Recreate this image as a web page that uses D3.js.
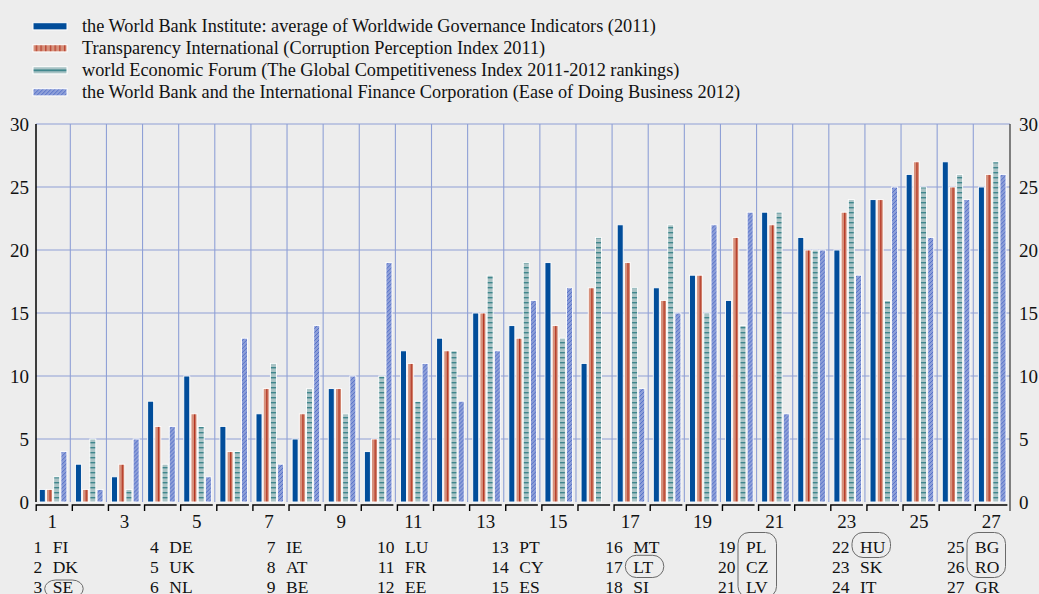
<!DOCTYPE html>
<html>
<head>
<meta charset="utf-8">
<script src="https://cdn.jsdelivr.net/npm/d3@7"></script>
<style>
  body { margin: 0; background: #ededed; }
  text { font-family: "Liberation Serif", "Times New Roman", serif; fill: #111; }
</style>
</head>
<body>
<script>

// ranks of the EU27 countries, one array per source
var countries = ["FI","DK","SE","DE","UK","NL","IE","AT","BE","LU","FR","EE","PT","CY","ES",
                 "MT","LT","SI","PL","CZ","LV","HU","SK","IT","BG","RO","GR"];
var wgi = [1,3,2,8,10,6,7,5,9,4,12,13,15,14,19,11,22,17,18,16,23,21,20,24,26,27,25];
var cpi = [1,1,3,6,7,4,9,7,9,5,11,12,15,13,14,17,19,16,18,21,22,20,23,24,27,25,26];
var gci = [2,5,1,3,6,4,11,9,7,10,8,12,18,19,13,21,17,22,15,14,23,20,24,16,25,26,27];
var dbi = [4,1,5,6,2,13,3,14,10,19,11,8,12,16,17,null,9,15,22,23,7,20,18,25,21,24,26];

var seriesNames = [
  "the World Bank Institute: average of Worldwide Governance Indicators (2011)",
  "Transparency International (Corruption Perception Index 2011)",
  "world Economic Forum (The Global Competitiveness Index 2011-2012 rankings)",
  "the World Bank and the International Finance Corporation (Ease of Doing Business 2012)"
];
var yTicks = [0,5,10,15,20,25,30];
// countries circled in the list under the chart (first and last index)
var circled = [[2,2],[16,16],[18,20],[21,21],[24,25]];

var series = [wgi, cpi, gci, dbi];

var w = 1039;
var h = 594;

var svg = d3.select("body").append("svg")
  .attr("width", w)
  .attr("height", h);

// patterns
var defs = svg.append("defs");

var pRed = defs.append("pattern").attr("id","red")
  .attr("patternUnits","objectBoundingBox").attr("patternContentUnits","objectBoundingBox")
  .attr("width",1).attr("height",1);
pRed.append("rect").attr("width",1).attr("height",1).attr("fill","#d6917c");
pRed.append("rect").attr("x",0.5).attr("width",0.22).attr("height",1).attr("fill","#b3321f");

var pRedL = defs.append("pattern").attr("id","redL")
  .attr("patternUnits","userSpaceOnUse").attr("width",4.7).attr("height",10);
pRedL.append("rect").attr("width",4.7).attr("height",10).attr("fill","#d6917c");
pRedL.append("rect").attr("x",3).attr("width",1.1).attr("height",10).attr("fill","#b3321f");

var pTeal = defs.append("pattern").attr("id","teal")
  .attr("patternUnits","userSpaceOnUse").attr("width",10).attr("height",5);
pTeal.append("rect").attr("width",10).attr("height",5).attr("fill","#a9c3c5");
pTeal.append("rect").attr("y",2).attr("width",10).attr("height",1.4).attr("fill","#3f868c");

var pTealL = defs.append("pattern").attr("id","tealL")
  .attr("patternUnits","objectBoundingBox").attr("patternContentUnits","objectBoundingBox")
  .attr("width",1).attr("height",1);
pTealL.append("rect").attr("width",1).attr("height",1).attr("fill","#a9c3c5");
pTealL.append("rect").attr("y",0.38).attr("width",1).attr("height",0.26).attr("fill","#3f868c");

var pHatch = defs.append("pattern").attr("id","hatch")
  .attr("patternUnits","userSpaceOnUse").attr("width",4).attr("height",4);
pHatch.append("rect").attr("width",4).attr("height",4).attr("fill","#8e9fd8");
pHatch.append("path").attr("d","M-1,1L1,-1M0,4L4,0M3,5L5,3")
  .attr("stroke","#3b5cc2").attr("stroke-width",0.7);

var fills = ["#014d9a", "url(#red)", "url(#teal)", "url(#hatch)"];
var legendFills = ["#014d9a", "url(#redL)", "url(#tealL)", "url(#hatch)"];

// scales
var x = d3.scaleBand()
  .domain(d3.range(1, 28))
  .range([34.2, 1009.4]);
var xs = d3.scaleBand()
  .domain([0,1,2,3])
  .range([4.6, 33.4]);
var y = d3.scaleLinear()
  .domain([0, 30])
  .range([502, 124]);

var left = 36, right = 1010;

// grid
var grid = svg.append("g").attr("stroke","#8fa0d6").attr("stroke-width",1.1);
grid.selectAll("line.h")
  .data(yTicks.slice(1))
  .enter().append("line")
  .attr("x1", left).attr("x2", right)
  .attr("y1", function(d){ return y(d); })
  .attr("y2", function(d){ return y(d); });
grid.selectAll("line.v")
  .data(d3.range(2, 28))
  .enter().append("line")
  .attr("x1", function(d){ return x(d); })
  .attr("x2", function(d){ return x(d); })
  .attr("y1", y(30)).attr("y2", y(0));

// bars
var cat = svg.selectAll("g.cat")
  .data(countries)
  .enter().append("g")
  .attr("transform", function(d, i){ return "translate(" + x(i + 1) + ",0)"; });

cat.selectAll("rect")
  .data(function(d, i){
    return series.map(function(s, k){ return {k: k, v: s[i]}; })
      .filter(function(e){ return e.v != null; });
  })
  .enter().append("rect")
  .attr("x", function(d){ return xs(d.k) + 0.5; })
  .attr("width", xs.bandwidth() - 1.2)
  .attr("y", function(d){ return y(d.v); })
  .attr("height", function(d){ return y(0) - y(d.v); })
  .attr("fill", function(d){ return fills[d.k]; })
  .attr("stroke", "#fff")
  .attr("stroke-width", 0.9);

// axes
svg.append("line")
  .attr("x1", left).attr("x2", left)
  .attr("y1", y(30)).attr("y2", y(0))
  .attr("stroke", "#000").attr("stroke-width", 1.5);
svg.append("line")
  .attr("x1", right).attr("x2", right)
  .attr("y1", y(30)).attr("y2", 511)
  .attr("stroke", "#333").attr("stroke-width", 1.2);

var yl = svg.append("g")
  .attr("transform", "translate(" + left + ",0)")
  .call(d3.axisLeft(y).tickValues(yTicks).tickSize(0).tickPadding(7));
var yr = svg.append("g")
  .attr("transform", "translate(" + right + ",0)")
  .call(d3.axisRight(y).tickValues(yTicks).tickSize(0).tickPadding(9));
[yl, yr].forEach(function(g){
  g.select(".domain").remove();
  g.selectAll("text")
    .attr("font-family", "Liberation Serif")
    .attr("font-size", 19)
    .attr("fill", "#111");
});

// bracket ticks under each category
svg.append("g").selectAll("path")
  .data(d3.range(1, 28))
  .enter().append("path")
  .attr("d", function(d){
    var b = x(d);
    return "M" + (b + 2) + ",511V505H" + (b + x.step() - 2);
  })
  .attr("fill", "none")
  .attr("stroke", "#000")
  .attr("stroke-width", 1.4);

svg.append("g").selectAll("text")
  .data(d3.range(1, 28, 2))
  .enter().append("text")
  .attr("x", function(d){ return x(d) + x.bandwidth() / 2; })
  .attr("y", 527.5)
  .attr("text-anchor", "middle")
  .attr("font-size", 19)
  .text(function(d){ return d; });

// legend
var leg = svg.append("g").selectAll("g")
  .data(seriesNames)
  .enter().append("g")
  .attr("transform", function(d, i){ return "translate(0," + (26.3 + i * 22) + ")"; });
leg.append("rect")
  .attr("x", 33).attr("y", -3.6)
  .attr("width", 34).attr("height", 7.2)
  .attr("fill", function(d, i){ return legendFills[i]; })
  .attr("stroke", "#fff").attr("stroke-width", 1);
leg.append("text")
  .attr("x", 82).attr("y", 5.6)
  .attr("font-size", 18.3)
  .text(function(d){ return d; });

// country list
var colPos = [52.7, 169.3, 286, 405, 519.3, 633.3, 746, 860, 975];
var colX = function(c){ return colPos[c]; };
var rowY = [553, 573, 593];
var list = svg.append("g").attr("font-size", 17.5);
list.selectAll("text.n")
  .data(countries)
  .enter().append("text")
  .attr("x", function(d, i){ return colX(Math.floor(i / 3)) - 10.5; })
  .attr("y", function(d, i){ return rowY[i % 3]; })
  .attr("text-anchor", "end")
  .text(function(d, i){ return i + 1; });
list.selectAll("text.c")
  .data(countries)
  .enter().append("text")
  .attr("x", function(d, i){ return colX(Math.floor(i / 3)); })
  .attr("y", function(d, i){ return rowY[i % 3]; })
  .text(function(d){ return d; });

var boxTop = [-20.5, -17.7, -13];
svg.append("g").selectAll("rect")
  .data(circled)
  .enter().append("rect")
  .attr("x", function(d){ return colX(Math.floor(d[0] / 3)) - 8; })
  .attr("y", function(d){ return rowY[d[0] % 3] + boxTop[d[0] % 3]; })
  .attr("width", 38.5)
  .attr("height", function(d){
    return rowY[d[1] % 3] + 4.5 - (rowY[d[0] % 3] + boxTop[d[0] % 3]);
  })
  .attr("rx", 11)
  .attr("fill", "none")
  .attr("stroke", "#6a6a6a")
  .attr("stroke-width", 1);

</script>
</body>
</html>
